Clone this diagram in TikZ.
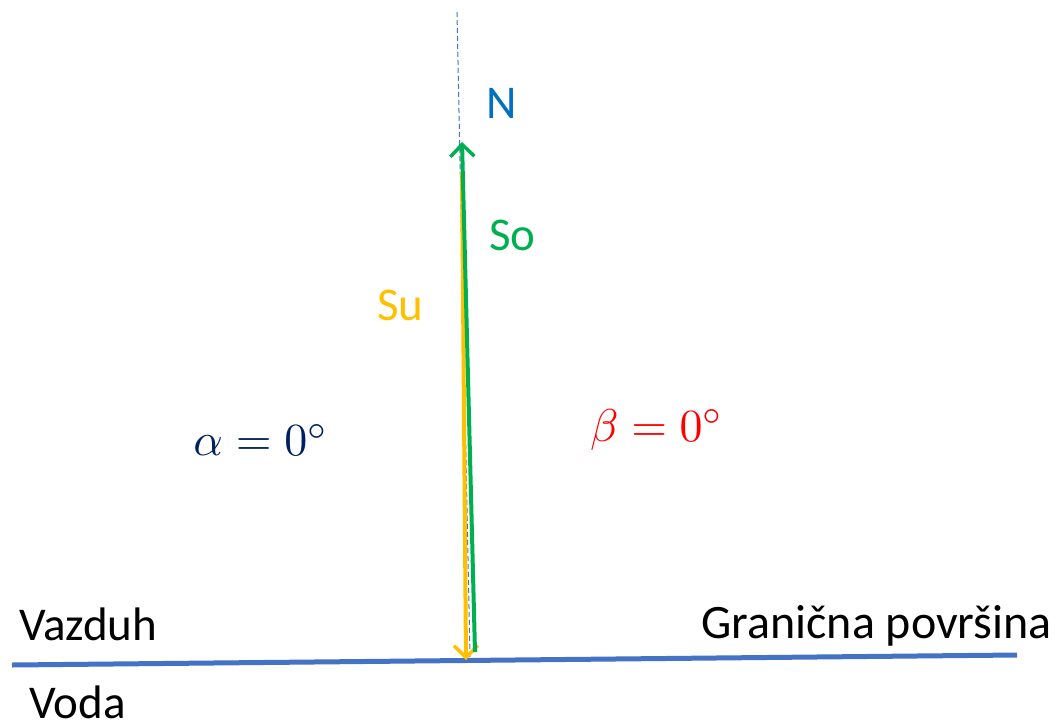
\documentclass[tikz,border=0pt]{standalone}
\usepackage{graphicx}
\usepackage{fontspec}
\setmainfont{Carlito}
\usetikzlibrary{arrows.meta}
\definecolor{ifblue}{RGB}{68,114,196}
\definecolor{sogreen}{RGB}{0,176,80}
\definecolor{suyellow}{RGB}{255,192,0}
\definecolor{nblue}{RGB}{0,112,192}
\definecolor{adark}{RGB}{0,32,96}
\tikzset{
  lbl/.style={font=\fontsize{47}{52}\selectfont, inner sep=0pt},
  mth/.style={font=\normalsize, inner sep=0pt},
  ray/.style={line width=4pt, -{Straight Barb[length=12pt,width=24pt,line width=3.5pt]}},
}
\begin{document}
\begin{tikzpicture}[x=1pt,y=-1pt]
\useasboundingbox (0,0) rectangle (1058,726);
% coordinates
\coordinate (ntop) at (457,12);
\coordinate (nbot) at (470,657);
\coordinate (il) at (12,665);
\coordinate (ir) at (1017,655);
\coordinate (so0) at (475,652);
\coordinate (so1) at (462,142);
\coordinate (su0) at (462,172);
\coordinate (su1) at (466,660);
% normal
\draw[ifblue, line width=1pt, dash pattern=on 5pt off 3pt] (ntop) -- (nbot);
% interface
\draw[ifblue, line width=5pt] (il) -- (ir);
% rays
\draw[ray, suyellow] (su0) -- (su1);
\draw[ray, sogreen] (so0) -- (so1);
% labels
\node[lbl, text=nblue, anchor=base west] (N) at (486,118) {N};
\node[lbl, text=sogreen, anchor=base west] (So) at (489,250) {So};
\node[lbl, text=suyellow, anchor=base west] (Su) at (377,320) {Su};
\node[mth, text=adark] (alpha) at (261,440) {\scalebox{4.6}{$\alpha=0^\circ$}};
\node[mth, text=red] (beta) at (657,430) {\scalebox{4.6}{$\beta=0^\circ$}};
\node[lbl, anchor=base west] (vaz) at (19,640) {Vazduh};
\node[lbl, anchor=base east] (gran) at (1052,638) {\fontsize{48}{52}\selectfont Granična površina};
\node[lbl, anchor=base west] (voda) at (29,718) {Voda};
\end{tikzpicture}
\end{document}
